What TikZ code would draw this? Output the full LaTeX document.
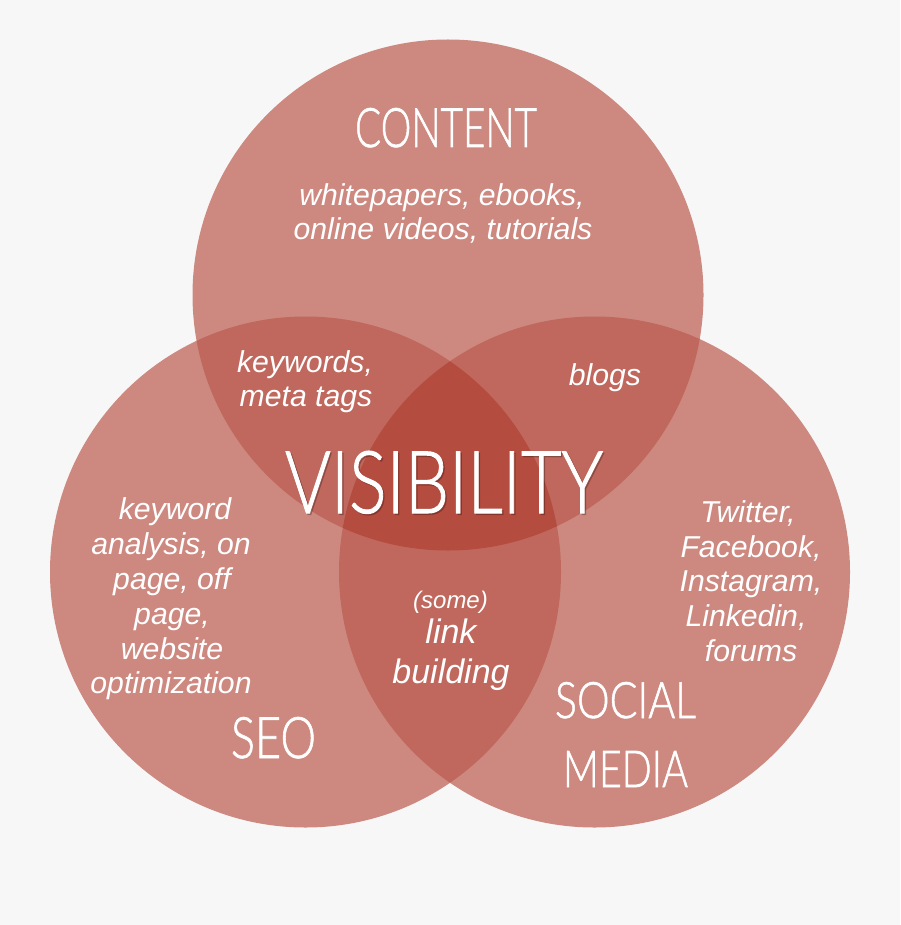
\documentclass[tikz,border=0pt]{standalone}
\usepackage{fontspec}
\usepackage{graphicx}
\setmainfont{Liberation Sans}
\IfFontExistsTF{Lato Light}
  {\newfontfamily\titlefont[FakeBold=1.2]{Lato Light}}
  {\IfFontExistsTF{Open Sans Light}
    {\newfontfamily\titlefont[FakeBold=1.2]{Open Sans Light}}
    {\newfontfamily\titlefont{Open Sans}}}
\definecolor{bg}{RGB}{247,247,247}
\definecolor{cone}{RGB}{205,137,128}
\definecolor{ctwo}{RGB}{192,104,93}
\definecolor{cthree}{RGB}{181,76,64}
\tikzset{
  lbl/.style={anchor=base, inner sep=0pt, text=white, font=\itshape\fontsize{30.2}{35}\selectfont},
  lblsmall/.style={lbl, font=\itshape\fontsize{24}{28}\selectfont},
  lblbig/.style={lbl, font=\itshape\fontsize{34}{40}\selectfont},
  ttl/.style={anchor=base, inner sep=0pt, text=white},
  disc/.style={radius=255.5pt}
}
\begin{document}
\begin{tikzpicture}[x=1pt,y=-1pt]
\useasboundingbox (0,0) rectangle (900,925);
\fill[bg] (0,0) rectangle (900,925);
\coordinate (T) at (448,295);
\coordinate (L) at (305.5,572);
\coordinate (R) at (594.5,572);
% single regions
\fill[cone] (T) circle[disc];
\fill[cone] (L) circle[disc];
\fill[cone] (R) circle[disc];
% double overlaps
\begin{scope}
  \clip (T) circle[disc];
  \fill[ctwo] (L) circle[disc];
  \fill[ctwo] (R) circle[disc];
\end{scope}
\begin{scope}
  \clip (L) circle[disc];
  \fill[ctwo] (R) circle[disc];
\end{scope}
% triple overlap
\begin{scope}
  \clip (T) circle[disc];
  \clip (L) circle[disc];
  \fill[cthree] (R) circle[disc];
\end{scope}
% titles
\node[ttl] (content) at (446,147) {\resizebox{182pt}{39pt}{\titlefont CONTENT}};
\node[ttl, text=black, opacity=0.18] (visshadow) at (445.5,514.5) {\resizebox{318pt}{62pt}{\titlefont VISIBILITY}};
\node[ttl] (visibility) at (444,513) {\resizebox{318pt}{62pt}{\titlefont VISIBILITY}};
\node[ttl] (seo) at (273.5,758) {\resizebox{85pt}{41pt}{\titlefont SEO}};
\node[ttl] (social) at (625.5,718) {\resizebox{141pt}{36pt}{\titlefont SOCIAL}};
\node[ttl] (media) at (625.5,787) {\resizebox{125pt}{36pt}{\titlefont MEDIA}};
% content labels
\node[lbl] (c1) at (442,206) {whitepapers, ebooks,};
\node[lbl] (c2) at (443,240) {online videos, tutorials};
% overlaps
\node[lbl] (k1) at (305,372) {keywords,};
\node[lbl] (k2) at (306,406) {meta tags};
\node[lbl] (blogs) at (605,385) {blogs};
% seo
\node[lbl] (s1) at (175,519) {keyword};
\node[lbl] (s2) at (171,554) {analysis, on};
\node[lbl] (s3) at (172,589) {page, off};
\node[lbl] (s4) at (172,624) {page,};
\node[lbl] (s5) at (172,659) {website};
\node[lbl] (s6) at (171,693) {optimization};
% social
\node[lbl] (m1) at (748,522) {Twitter,};
\node[lbl] (m2) at (751,557) {Facebook,};
\node[lbl] (m3) at (751,591) {Instagram,};
\node[lbl] (m4) at (746,626) {Linkedin,};
\node[lbl] (m5) at (751,661) {forums};
% link building
\node[lblsmall] (l1) at (450.5,608) {(some)};
\node[lblbig] (l2) at (451,643) {link};
\node[lblbig] (l3) at (451,683) {building};
\end{tikzpicture}
\end{document}
